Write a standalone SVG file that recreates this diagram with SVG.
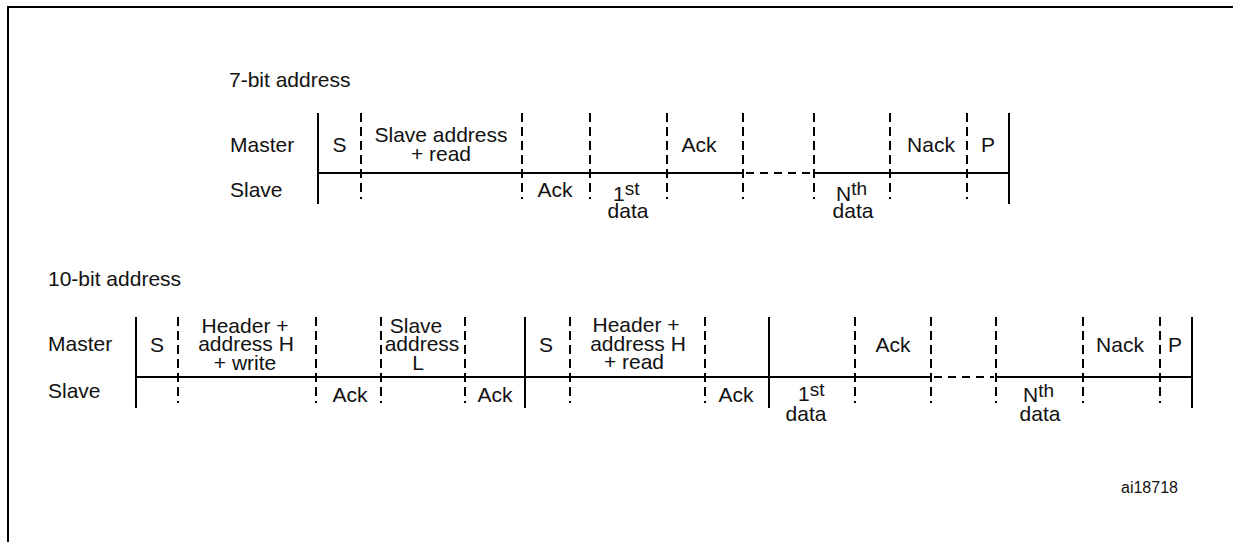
<svg xmlns="http://www.w3.org/2000/svg" width="1233" height="542" viewBox="0 0 1233 542">
  <style>
    text { font-family: "Liberation Sans", Arial, sans-serif; font-size: 21px; fill: #111; }
    .mid { text-anchor: middle; }
    .sup { font-size: 19px; }
    .tag { font-size: 16px; }
    .solid { stroke: #000; stroke-width: 2; fill: none; }
    .dash { stroke: #000; stroke-width: 2; fill: none; stroke-dasharray: 9 5; }
    .hdash { stroke: #000; stroke-width: 2; fill: none; stroke-dasharray: 8 6; }
  </style>

  <!-- page frame -->
  <path id="frame" d="M8 542 V7 H1233" class="solid"/>

  <!-- section titles and row names -->
  <g id="titles">
    <text x="229" y="87">7-bit address</text>
    <text x="230" y="152">Master</text>
    <text x="230" y="197">Slave</text>
    <text x="48" y="286">10-bit address</text>
    <text x="48" y="351">Master</text>
    <text x="48" y="398">Slave</text>
  </g>

  <!-- bus lines and field boundaries -->
  <g id="connectors">
    <!-- 7-bit transfer -->
    <path class="solid" d="M318 173 H743 M814 173 H1010"/>
    <path class="hdash" d="M746 173 H812"/>
    <path class="solid" d="M318 113 V204 M1009 113 V204"/>
    <path class="dash" d="M361 113 V199 M522 113 V199 M590 113 V199 M667 113 V199 M743 113 V199 M814 113 V199 M890 113 V199 M967 113 V199"/>
    <!-- 10-bit transfer -->
    <path class="solid" d="M136 377 H931 M996 377 H1192"/>
    <path class="hdash" d="M934 377 H994"/>
    <path class="solid" d="M136 317 V408 M525 317 V408 M769 317 V408 M1192 317 V408"/>
    <path class="dash" d="M178 317 V403 M316 317 V403 M381 317 V403 M465 317 V403 M570 317 V403 M705 317 V403 M855 317 V403 M931 317 V403 M996 317 V403 M1083 317 V403 M1160 317 V403"/>
  </g>

  <!-- 7-bit address fields -->
  <g id="f7-start"><text class="mid" x="339.5" y="152">S</text></g>
  <g id="f7-addr">
    <text class="mid" x="441" y="142">Slave address</text>
    <text class="mid" x="441" y="160.5">+ read</text>
  </g>
  <g id="f7-ack1"><text class="mid" x="555" y="197">Ack</text></g>
  <g id="f7-data1">
    <text x="613" y="201">1<tspan class="sup" dy="-6">st</tspan></text>
    <text class="mid" x="628" y="218">data</text>
  </g>
  <g id="f7-ack2"><text class="mid" x="699" y="152">Ack</text></g>
  <g id="f7-dataN">
    <text x="836" y="201">N<tspan class="sup" dy="-6">th</tspan></text>
    <text class="mid" x="853" y="218">data</text>
  </g>
  <g id="f7-nack"><text class="mid" x="931" y="152">Nack</text></g>
  <g id="f7-stop"><text class="mid" x="988" y="152">P</text></g>

  <!-- 10-bit address fields -->
  <g id="f10-start1"><text class="mid" x="157" y="351.5">S</text></g>
  <g id="f10-hdr-write">
    <text class="mid" x="245" y="333">Header +</text>
    <text class="mid" x="246" y="351">address H</text>
    <text class="mid" x="245" y="369.5">+ write</text>
  </g>
  <g id="f10-ack1"><text class="mid" x="350" y="401.5">Ack</text></g>
  <g id="f10-addrL">
    <text class="mid" x="416" y="333">Slave</text>
    <text class="mid" x="422" y="351">address</text>
    <text class="mid" x="418" y="369.5">L</text>
  </g>
  <g id="f10-ack2"><text class="mid" x="495" y="401.5">Ack</text></g>
  <g id="f10-start2"><text class="mid" x="546" y="351.5">S</text></g>
  <g id="f10-hdr-read">
    <text class="mid" x="636" y="332">Header +</text>
    <text class="mid" x="638" y="350.5">address H</text>
    <text class="mid" x="634" y="368.5">+ read</text>
  </g>
  <g id="f10-ack3"><text class="mid" x="736" y="401.5">Ack</text></g>
  <g id="f10-data1">
    <text x="798" y="401">1<tspan class="sup" dy="-5">st</tspan></text>
    <text class="mid" x="806" y="421">data</text>
  </g>
  <g id="f10-ack4"><text class="mid" x="893" y="352">Ack</text></g>
  <g id="f10-dataN">
    <text x="1023" y="402">N<tspan class="sup" dy="-5">th</tspan></text>
    <text class="mid" x="1040" y="421">data</text>
  </g>
  <g id="f10-nack"><text class="mid" x="1120" y="352">Nack</text></g>
  <g id="f10-stop"><text class="mid" x="1175" y="352">P</text></g>

  <!-- figure reference -->
  <text class="tag" x="1121" y="493">ai18718</text>
</svg>
